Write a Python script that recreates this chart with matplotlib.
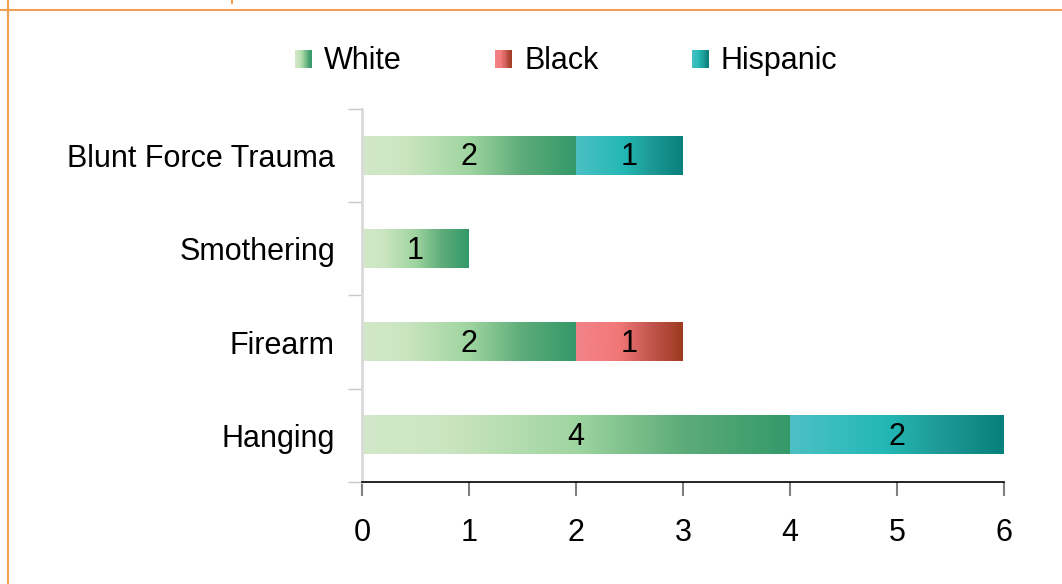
"""Stacked horizontal bars with gradient fills, cause of death by race."""

import matplotlib

matplotlib.use("Agg")
import matplotlib.pyplot as plt
import numpy as np
from matplotlib.colors import LinearSegmentedColormap
from matplotlib.legend_handler import HandlerBase
from matplotlib.lines import Line2D
from matplotlib.patches import Patch, Rectangle

plt.rcParams["font.family"] = ["Liberation Sans", "DejaVu Sans"]

categories = ["Hanging", "Firearm", "Smothering", "Blunt Force Trauma"]
series = ["White", "Black", "Hispanic"]
white = [4, 2, 1, 2]
black = [0, 1, 0, 0]
hispanic = [2, 0, 0, 1]

cmaps = {
    "White": LinearSegmentedColormap.from_list(
        "w", [(0, "#d2e8c8"), (0.2, "#cbe5c1"), (0.5, "#9fd5a0"), (0.75, "#5dac79"), (1, "#34996a")]
    ),
    "Black": LinearSegmentedColormap.from_list(
        "b", [(0, "#f28489"), (0.4, "#f27777"), (0.7, "#c2564e"), (1, "#9e3a1f")]
    ),
    "Hispanic": LinearSegmentedColormap.from_list(
        "h", [(0, "#4cc0c4"), (0.45, "#23b8b5"), (0.7, "#1f9a96"), (1, "#08807b")]
    ),
}

FS = 22

fig = plt.figure(figsize=(10.62, 5.84), dpi=100)
ax = fig.add_axes((0.3409, 0.1747, 0.6045, 0.6387))

grad = np.linspace(0, 1, 256).reshape(1, -1)
bar_h = 0.41
y = np.arange(len(categories))
left = np.zeros(len(categories))
for name, vals in zip(series, [white, black, hispanic]):
    for yi, v, l in zip(y, vals, left):
        if v <= 0:
            continue
        ax.imshow(grad, cmap=cmaps[name], aspect="auto", interpolation="bicubic",
                  extent=(l, l + v, yi - bar_h / 2, yi + bar_h / 2), zorder=2)
        ax.text(l + v / 2, yi - 0.02, str(v), ha="center", va="center", fontsize=FS, color="black", zorder=3)
    left = left + np.array(vals)

ax.set_xlim(0, 6)
ax.set_ylim(-0.5, len(categories) - 0.5)
ax.set_xticks(range(7))
ax.set_yticks(y)
ax.set_yticklabels(categories, fontsize=FS)
ax.set_yticks(np.arange(-0.5, len(categories)), minor=True)
ax.tick_params(axis="x", labelsize=FS, length=10, width=1.5, color="#808080", pad=16)
ax.tick_params(axis="y", which="major", length=0, pad=19.5)
ax.tick_params(axis="y", which="minor", length=10, width=1, color="#c8c8c8")
for s in ["top", "right"]:
    ax.spines[s].set_visible(False)
ax.spines["left"].set_color("#d9d9d9")
ax.spines["left"].set_linewidth(2)
ax.spines["bottom"].set_color("black")
ax.spines["bottom"].set_linewidth(1.2)
ax.spines["bottom"].set_bounds(0, 6)


class GradientHandler(HandlerBase):
    def create_artists(self, legend, orig_handle, xdescent, ydescent, width, height, fontsize, trans):
        cmap = cmaps[orig_handle.get_label()]
        n = 14
        w = 17 * 72 / 100
        h = 18 * 72 / 100
        x0 = width - w
        y0 = (height - h) / 2
        out = []
        for i in range(n):
            r = Rectangle((x0 + i * w / n, y0), w / n + 0.05, h,
                          facecolor=cmap((i + 0.5) / n), edgecolor="none", transform=trans)
            out.append(r)
        return out


handles = [Patch(label=s) for s in series]
fig.legend(handles=handles, loc="center", bbox_to_anchor=(0.533, 0.895), ncol=3, frameon=False,
           fontsize=FS, handler_map={Patch: GradientHandler()}, handlelength=0.56,
           handletextpad=0.4, columnspacing=3.05)

orange = "#f0a050"
fig.add_artist(Line2D([0, 1], [1 - 10 / 584] * 2, transform=fig.transFigure, color=orange, lw=1.5))
fig.add_artist(Line2D([8 / 1062] * 2, [0, 1], transform=fig.transFigure, color=orange, lw=1.5))
fig.add_artist(Line2D([232 / 1062] * 2, [1 - 3 / 584, 1], transform=fig.transFigure, color=orange, lw=1.5))

fig.savefig("out.png", dpi=100)
